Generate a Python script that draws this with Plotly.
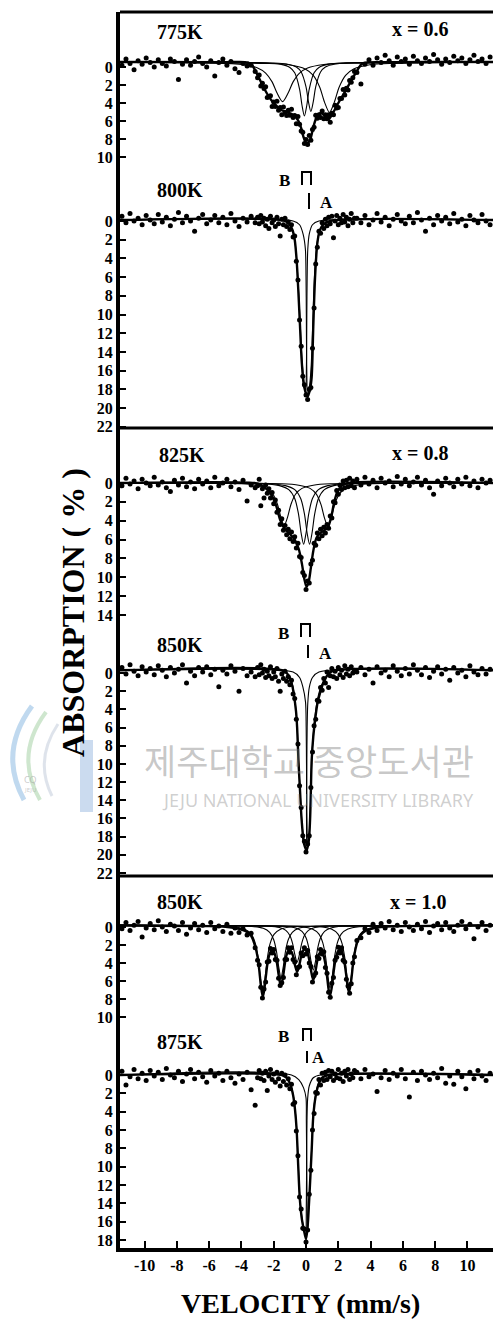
import plotly.graph_objects as go

# ---------------- page geometry (pixels) ----------------
W, H = 493, 1321
ML, MR, MT, MB = 120, 0, 12, 73
PW = W - ML - MR
PH = H - MT - MB


def px(x):
    return (x - ML) / PW


def py(y):
    return (H - MB - y) / PH


# ---------------- data ----------------
velocity = (
    [-11.4, -11.15, -10.9, -10.65, -10.4, -10.15, -9.9, -9.65, -9.4, -9.15, -8.9, -8.65,
     -8.4, -8.15, -7.9, -7.65, -7.4, -7.15, -6.9, -6.65, -6.4, -6.15, -5.9, -5.65, -5.4,
     -5.15, -4.9, -4.65, -4.4, -4.15, -3.9, -3.65, -3.4, -3.15]
    + [-3.0, -2.9, -2.8, -2.7, -2.6, -2.5, -2.4, -2.3, -2.2, -2.1, -2.0, -1.9, -1.8, -1.7,
       -1.6, -1.5, -1.4, -1.3, -1.2, -1.1, -1.0, -0.9, -0.8, -0.7, -0.6, -0.5, -0.4, -0.3,
       -0.2, -0.1, 0.0, 0.1, 0.2, 0.3, 0.4, 0.5, 0.6, 0.7, 0.8, 0.9, 1.0, 1.1, 1.2, 1.3,
       1.4, 1.5, 1.6, 1.7, 1.8, 1.9, 2.0, 2.1, 2.2, 2.3, 2.4, 2.5, 2.6, 2.7, 2.8, 2.9, 3.0]
    + [3.15, 3.4, 3.65, 3.9, 4.15, 4.4, 4.65, 4.9, 5.15, 5.4, 5.65, 5.9, 6.15, 6.4, 6.65,
       6.9, 7.15, 7.4, 7.65, 7.9, 8.15, 8.4, 8.65, 8.9, 9.15, 9.4, 9.65, 9.9, 10.15, 10.4,
       10.65, 10.9, 11.15, 11.4]
)

# measured absorption (%) for each spectrum
abs_775 = (
    [-0.2, -0.9, -0.4, 0.3, -0.7, -0.3, -1.0, -0.5, 0.0, -0.8, -0.4, -0.1, -0.9, -0.6, 1.4,
     -0.3, -0.8, -0.2, -0.6, -1.1, -0.4, 0.0, -0.7, 1.0, -0.5, -0.9, -0.2, -0.6, 0.2, 0.6,
     -0.4, -0.1, -0.2, 0.5]
    + [1.2, 0.9, 2.1, 1.8, 2.4, 2.2, 3.4, 3.3, 3.2, 4.4, 3.9, 4.4, 3.8, 4.8, 4.5, 5.3, 4.45,
       5.05, 5.4, 4.8, 5.35, 4.7, 5.6, 5.4, 6.3, 5.5, 6.35, 7.1, 7.25, 8.5, 8.05, 8.6, 7.6,
       8.15, 6.95, 6.7, 5.35, 5.7, 5.3, 5.6, 4.9, 5.75, 5.3, 5.75, 5.3, 6.15, 5.15, 5.3,
       4.25, 4.55, 4.5, 3.5, 3.5, 2.5, 3.1, 2.35, 2.55, 1.5, 1.7, 1.2, 0.5]
    + [0.6, 1.9, -0.3, -0.8, -0.2, -1.0, -0.5, -1.3, -0.7, -0.2, -1.1, -0.6, -0.9, -0.3, -1.2,
       -0.7, -0.4, -1.0, -0.6, -1.4, -0.8, -0.3, -0.9, -0.5, -1.2, -0.7, -1.0, -0.4, -0.8,
       -1.3, -0.6, -0.9, -0.4, -1.1]
)
abs_800 = (
    [-0.5, 0.2, -0.8, 0.0, -0.3, 0.4, -0.6, -0.1, 0.3, -0.7, 0.1, -0.4, 0.5, -0.2, -0.9, 0.2,
     -0.5, 0.0, 1.1, -0.3, -0.7, 0.3, -0.1, -0.6, 0.2, -0.4, 0.4, -0.8, 0.0, 0.6, -0.3, 0.1,
     -0.5, 0.2]
    + [-0.4, 0.3, -0.6, 0.1, -0.3, 0.5, -0.2, 0.8, -0.5, 0.2, -0.1, 0.6, -0.4, 0.3, 1.6, -0.2,
       0.4, -0.3, 0.6, 0.1, 0.9, 0.4, 1.7, 1.6, 4.3, 6.3, 10.6, 13.4, 16.6, 17.5, 18.6, 19.1,
       18.0, 17.8, 13.6, 9.3, 4.6, 2.8, 1.1, 1.3, 0.2, 0.8, -0.2, 0.5, -0.4, 0.3, -0.5, 1.8,
       0.0, -0.6, 0.4, -0.3, 0.2, -0.7, 0.1, -0.4, 0.5, -0.2, -0.8, 0.2, -0.3]
    + [-0.3, 0.2, -0.6, 0.4, -0.1, -0.8, 0.1, -0.4, 0.5, -0.2, -0.7, 0.0, 0.3, -0.5, 0.2, -0.9,
       -0.1, 1.1, -0.3, 0.4, -0.6, 0.0, -0.4, 0.3, -0.8, 0.1, -0.2, 0.5, -0.6, -0.1, 0.2,
       -0.7, 0.0, 0.4]
)
abs_825 = (
    [0.3, -0.5, 0.1, -0.2, 0.6, -0.4, 0.0, 0.3, -0.6, 0.2, -0.1, 0.5, 0.9, -0.3, 0.2, -0.5,
     0.4, -0.1, 0.6, -0.4, 0.1, -0.2, 0.5, -0.6, 0.3, 0.0, -0.4, 0.4, -0.1, 0.7, -0.3, 1.9,
     0.2, 0.5]
    + [0.3, -0.4, 2.4, 0.6, 1.6, 0.2, 1.1, 0.6, 1.6, 1.0, 2.2, 1.8, 3.1, 2.9, 4.4, 3.8, 5.0,
       4.5, 5.5, 4.9, 5.9, 5.2, 6.2, 5.7, 6.9, 6.4, 7.8, 7.9, 9.5, 9.8, 11.3, 10.4, 10.6, 8.6,
       8.2, 6.4, 6.6, 5.3, 5.9, 4.9, 5.6, 4.7, 5.3, 4.4, 4.8, 3.5, 3.7, 2.0, 2.1, 0.8, 1.2,
       0.2, 0.7, -0.2, 0.5, -0.3, 0.4, -0.5, 0.3, -0.2, 0.5]
    + [-0.4, 0.2, -0.6, 0.1, -0.3, 0.5, -0.5, 0.0, -0.2, 0.4, -0.7, 0.1, -0.4, 0.3, -0.1, -0.6,
       0.2, -0.3, 0.5, 1.2, -0.2, 0.3, -0.5, 0.0, 0.4, -0.4, 0.1, -0.6, 0.3, -0.2, 0.5, -0.4,
       0.0, -0.3]
)
abs_850a = (
    [-0.6, 0.1, -0.9, -0.2, 0.3, -0.7, -0.1, -0.5, 0.2, -0.8, -0.3, 0.4, -0.6, 0.0, -0.4,
     -0.9, 1.1, -0.2, 0.3, -0.6, -0.1, -0.7, 0.2, -0.4, 1.5, -0.3, 0.1, -0.8, -0.2, 2.0,
     -0.5, 0.3, -0.1, 0.4]
    + [-0.6, 0.2, -0.9, 0.0, -0.4, 0.5, -0.2, 0.3, -0.7, 0.6, -0.1, 0.4, -0.5, 0.9, 2.0, 0.1,
       0.6, -0.2, 0.9, 0.4, 1.3, 0.8, 2.3, 2.8, 5.1, 7.8, 12.4, 14.8, 17.9, 18.5, 19.7, 18.8,
       17.9, 12.6, 8.7, 5.8, 5.1, 3.0, 3.1, 1.6, 1.9, 0.6, 1.1, -0.1, 1.6, 0.3, -0.5, 0.4,
       -0.2, 0.6, -0.6, 0.2, -0.3, 0.5, -0.8, 0.1, -0.4, 0.3, -0.7, 0.0, -0.3]
    + [-0.1, -0.6, 0.2, -0.4, 1.1, -0.7, 0.0, -0.3, 0.4, -0.8, -0.2, 0.3, -0.5, 0.1, -0.9,
       -0.3, 0.2, -0.6, 0.5, -0.2, -0.7, 0.1, -0.4, 0.8, -0.6, 0.0, -0.3, 0.4, -0.8, -0.1,
       0.2, -0.5, 0.1, -0.4]
)
abs_850b = (
    [0.2, -0.5, 0.4, -0.2, -0.6, 1.1, 0.1, -0.4, 0.3, -0.7, 0.0, 0.5, -0.3, -0.1, 0.4, -0.5,
     0.8, 0.1, -0.4, 0.3, -0.2, 0.6, -0.5, 0.2, -0.1, 0.5, -0.3, 0.7, 0.1, 0.6, 0.2, 0.9,
     0.7, 2.3]
    + [3.7, 4.2, 6.7, 7.9, 6.9, 6.1, 3.9, 3.8, 2.4, 2.9, 2.5, 3.6, 3.7, 5.7, 6.5, 6.2, 5.6,
       3.6, 3.6, 2.3, 2.8, 2.3, 3.6, 3.9, 5.3, 4.5, 4.4, 2.9, 3.2, 2.3, 3.0, 2.6, 4.0, 4.4,
       6.1, 5.4, 5.1, 3.3, 3.5, 2.5, 3.0, 2.75, 4.5, 5.15, 7.25, 7.8, 6.25, 5.6, 3.7, 3.35,
       2.25, 2.9, 2.3, 3.7, 3.9, 5.8, 6.55, 7.35, 6.3, 4.0, 3.3]
    + [1.5, 1.2, 0.2, 0.6, -0.3, 0.4, -0.4, 0.1, -0.6, 0.3, -0.2, 0.5, -0.5, 0.0, 0.4, -0.3,
       0.2, -0.6, 0.6, -0.1, -0.4, 0.3, -0.5, 0.1, 0.5, -0.2, -0.6, 0.2, -0.3, 1.3, 0.0,
       -0.5, 0.4, -0.2]
)
abs_875 = (
    [-0.4, 1.1, 0.2, -0.6, 0.4, -0.2, 0.6, -0.5, 0.1, -0.3, 0.5, -0.7, 0.0, 0.3, -0.4, 0.7,
     -0.1, -0.6, 0.4, -0.3, 0.2, 0.8, -0.5, 0.1, -0.2, 0.6, -0.4, 0.3, 0.9, -0.1, 0.5, -0.3,
     1.6, 3.3]
    + [0.3, -0.5, 0.4, -0.2, 0.6, -0.4, 1.7, 0.1, -0.6, 0.5, -0.1, 0.8, -0.3, 0.4, 1.2, -0.2,
       0.7, 0.0, 1.1, 0.4, 1.5, 1.0, 3.2, 3.0, 6.1, 8.8, 13.3, 14.6, 16.7, 16.8, 18.2, 16.9,
       13.0, 10.4, 6.0, 4.2, 1.9, 2.0, 0.5, 1.1, -0.2, 0.6, -0.3, 0.5, -0.5, 0.2, -0.4, 0.6,
       -0.1, 0.3, -0.6, 0.4, -0.2, 0.7, -0.4, 0.1, -0.6, 0.5, -0.1, 0.3, -0.5]
    + [-0.3, 0.4, -0.6, 0.2, -0.1, 1.8, 0.3, -0.5, 0.5, -0.2, 0.1, -0.6, 0.4, 2.4, -0.3, 0.6,
       -0.4, 0.0, 0.5, -0.2, 0.3, -0.7, 0.9, 0.1, 1.0, -0.4, 0.2, 1.5, -0.3, 0.4, -0.5, 0.1,
       0.6, -0.2]
)

# fitted curves (velocity, absorption)
env_775 = [(-11.52, -0.55), (-5.0, -0.54), (-3.6, -0.5), (-3.3, -0.1), (-3.0, 0.9), (-2.7, 2.0),
           (-2.4, 3.0), (-2.1, 3.8), (-1.8, 4.4), (-1.5, 4.8), (-1.2, 5.0), (-0.8, 5.3),
           (-0.5, 5.9), (-0.3, 6.8), (-0.15, 7.8), (0.05, 8.5), (0.25, 8.1), (0.45, 6.7),
           (0.65, 5.6), (0.9, 5.1), (1.15, 5.4), (1.4, 5.8), (1.7, 5.0), (2.0, 4.0), (2.4, 2.8),
           (2.8, 1.5), (3.2, 0.3), (3.5, -0.4), (5.0, -0.54), (11.58, -0.55)]
c1_775 = [(-11.52, -0.53), (-4.0, -0.28), (-3.0, 0.11), (-2.5, 0.67), (-2.1, 1.65), (-1.8, 2.86),
          (-1.45, 3.85), (-1.1, 2.86), (-0.8, 1.65), (-0.4, 0.67), (0.1, 0.11), (1.1, -0.28),
          (3.0, -0.46), (11.58, -0.54)]
c2_775 = [(-11.52, -0.54), (-2.5, -0.45), (-1.6, -0.32), (-1.0, 0.05), (-0.7, 0.65), (-0.4, 2.45),
          (-0.25, 4.25), (-0.1, 5.45), (0.05, 4.25), (0.2, 2.45), (0.5, 0.65), (0.8, 0.05),
          (1.4, -0.32), (2.3, -0.45), (11.58, -0.54)]
c3_775 = [(-11.52, -0.54), (-2.1, -0.45), (-1.2, -0.34), (-0.6, 0.0), (-0.3, 0.55), (0.0, 2.2),
          (0.15, 3.85), (0.3, 4.95), (0.45, 3.85), (0.6, 2.2), (0.9, 0.55), (1.2, 0.0),
          (1.8, -0.34), (2.7, -0.45), (11.58, -0.54)]
c4_775 = [(-11.52, -0.54), (-2.5, -0.4), (-1.05, -0.25), (-0.05, 0.22), (0.45, 0.93), (0.85, 2.25),
          (1.15, 3.93), (1.45, 5.05), (1.75, 3.93), (2.05, 2.25), (2.45, 0.93), (2.95, 0.22),
          (3.95, -0.25), (5.5, -0.4), (11.58, -0.54)]

env_800 = [(-11.52, -0.1), (-1.5, -0.1), (-1.1, 0.2), (-0.85, 0.9), (-0.7, 2.0), (-0.58, 4.2),
           (-0.47, 7.7), (-0.37, 11.3), (-0.27, 14.9), (-0.12, 17.7), (0.1, 18.8), (0.25, 18.0),
           (0.35, 16.7), (0.45, 11.3), (0.56, 6.0), (0.7, 2.4), (0.85, 1.0), (1.07, 0.4),
           (1.5, 0.0), (11.58, -0.1)]
cl_800 = [(-11.52, -0.1), (-1.4, -0.1), (-1.0, 0.3), (-0.8, 1.2), (-0.68, 2.3), (-0.57, 4.3),
          (-0.45, 7.8), (-0.35, 11.4), (-0.25, 14.8), (-0.12, 17.3), (-0.02, 18.2), (0.03, 15.0),
          (0.05, 10.0), (0.07, 6.0), (0.11, 3.0), (0.2, 1.4), (0.4, 0.4), (0.8, 0.0),
          (11.58, -0.1)]
cr_800 = [(-11.52, -0.1), (-0.8, 0.0), (-0.4, 0.4), (-0.18, 1.4), (-0.04, 3.0), (0.0, 6.0),
          (0.02, 10.0), (0.04, 15.0), (0.1, 18.5), (0.22, 17.6), (0.32, 15.5), (0.4, 12.0),
          (0.48, 7.8), (0.56, 4.8), (0.68, 2.4), (0.85, 1.0), (1.1, 0.3), (1.5, 0.0),
          (11.58, -0.1)]

env_825 = [(-11.52, 0.0), (-3.2, 0.0), (-2.8, 0.2), (-2.4, 0.7), (-2.1, 1.4), (-1.85, 2.4),
           (-1.6, 3.9), (-1.35, 4.8), (-1.0, 5.4), (-0.7, 6.0), (-0.45, 7.0), (-0.25, 8.6),
           (-0.1, 10.2), (0.03, 11.0), (0.15, 10.6), (0.3, 9.0), (0.45, 7.2), (0.65, 5.8),
           (0.9, 5.3), (1.15, 5.0), (1.35, 4.7), (1.55, 3.7), (1.75, 2.0), (1.95, 0.9),
           (2.2, 0.3), (2.6, 0.0), (11.58, 0.0)]
c1_825 = [(-11.52, 0.0), (-4.0, 0.08), (-3.15, 0.23), (-2.45, 0.57), (-2.05, 1.19), (-1.77, 2.25),
          (-1.55, 3.67), (-1.35, 4.5), (-1.15, 3.67), (-0.93, 2.25), (-0.65, 1.19), (-0.25, 0.57),
          (0.45, 0.23), (1.5, 0.08), (11.58, 0.0)]
c2_825 = [(-11.52, 0.0), (-2.5, 0.1), (-1.65, 0.28), (-1.05, 0.73), (-0.7, 1.65), (-0.47, 3.25),
          (-0.3, 5.33), (-0.15, 6.5), (0.0, 5.33), (0.17, 3.25), (0.4, 1.65), (0.75, 0.73),
          (1.35, 0.28), (2.2, 0.1), (11.58, 0.0)]
c3_825 = [(-11.52, 0.0), (-2.15, 0.1), (-1.28, 0.28), (-0.68, 0.73), (-0.33, 1.65), (-0.1, 3.25),
          (0.07, 5.33), (0.22, 6.5), (0.37, 5.33), (0.54, 3.25), (0.77, 1.65), (1.12, 0.73),
          (1.72, 0.28), (2.6, 0.1), (11.58, 0.0)]
c4_825 = [(-11.52, 0.0), (-1.5, 0.08), (-0.45, 0.23), (0.25, 0.57), (0.65, 1.2), (0.93, 2.3),
          (1.15, 3.75), (1.35, 4.6), (1.55, 3.75), (1.77, 2.3), (2.05, 1.2), (2.45, 0.57),
          (3.15, 0.23), (4.0, 0.08), (11.58, 0.0)]

env_850a = [(-11.52, -0.3), (-1.5, -0.3), (-1.2, 0.0), (-1.0, 0.6), (-0.85, 1.4), (-0.75, 2.4),
            (-0.62, 4.2), (-0.55, 6.0), (-0.47, 9.6), (-0.37, 13.0), (-0.27, 16.2),
            (-0.12, 18.8), (0.04, 19.5), (0.17, 18.5), (0.25, 16.2), (0.3, 13.0), (0.35, 9.6),
            (0.45, 7.0), (0.56, 5.2), (0.7, 3.4), (0.87, 2.2), (1.05, 1.2), (1.3, 0.3),
            (1.6, -0.2), (11.58, -0.3)]
cl_850a = [(-11.52, -0.3), (-1.4, -0.3), (-1.0, 0.4), (-0.8, 1.6), (-0.65, 3.6), (-0.55, 5.8),
           (-0.47, 9.3), (-0.37, 12.8), (-0.27, 16.0), (-0.12, 18.6), (0.0, 19.2), (0.03, 15.0),
           (0.05, 10.0), (0.07, 6.0), (0.11, 3.3), (0.2, 1.6), (0.4, 0.5), (0.8, -0.1),
           (11.58, -0.3)]
cr_850a = [(-11.52, -0.3), (-0.8, -0.1), (-0.4, 0.5), (-0.2, 1.5), (-0.03, 3.2), (0.01, 6.0),
           (0.03, 10.0), (0.05, 15.0), (0.1, 19.0), (0.2, 17.6), (0.27, 15.0), (0.33, 11.0),
           (0.42, 7.5), (0.54, 5.0), (0.68, 3.2), (0.85, 1.9), (1.05, 1.0), (1.35, 0.2),
           (1.7, -0.2), (11.58, -0.3)]

env_850b = [(-11.52, -0.17), (-6.0, -0.1), (-5.0, -0.02), (-4.4, 0.12), (-4.0, 0.26), (-3.65, 0.55),
            (-3.4, 0.99), (-3.2, 1.85), (-3.0, 3.3), (-2.9, 4.72), (-2.8, 6.43), (-2.68, 7.74),
            (-2.6, 7.13), (-2.5, 5.68), (-2.4, 4.24), (-2.3, 3.28), (-2.2, 2.77), (-2.1, 2.59),
            (-2.0, 2.69), (-1.9, 3.22), (-1.8, 4.01), (-1.7, 5.26), (-1.6, 6.3), (-1.55, 6.53),
            (-1.5, 6.29), (-1.4, 5.26), (-1.3, 3.97), (-1.2, 3.08), (-1.1, 2.64), (-1.0, 2.59),
            (-0.9, 2.77), (-0.8, 3.24), (-0.7, 4.13), (-0.6, 4.76), (-0.55, 4.99), (-0.5, 4.76),
            (-0.4, 4.11), (-0.3, 3.25), (-0.2, 2.7), (-0.1, 2.5), (0.0, 2.55), (0.1, 2.91),
            (0.2, 3.63), (0.3, 4.74), (0.4, 5.6), (0.45, 5.84), (0.5, 5.64), (0.6, 4.81),
            (0.7, 3.71), (0.8, 3.04), (0.9, 2.78), (1.0, 2.81), (1.1, 3.25), (1.2, 4.13),
            (1.3, 5.45), (1.4, 6.95), (1.49, 7.63), (1.6, 6.65), (1.7, 5.14), (1.8, 3.9),
            (1.9, 3.06), (2.0, 2.65), (2.1, 2.53), (2.2, 2.58), (2.3, 3.2), (2.4, 4.14),
            (2.5, 5.49), (2.6, 6.87), (2.67, 7.24), (2.8, 5.91), (2.9, 4.29), (3.0, 3.02),
            (3.2, 1.55), (3.4, 0.85), (3.65, 0.46), (4.0, 0.24), (4.4, 0.05), (5.0, -0.05),
            (6.0, -0.1), (11.58, -0.17)]
l1_850b = [(-11.52, -0.19), (-6.0, -0.1), (-4.48, -0.02), (-3.78, 0.25), (-3.38, 0.82),
           (-3.13, 1.87), (-2.96, 3.5), (-2.82, 5.72), (-2.68, 7.2), (-2.54, 5.72), (-2.4, 3.5),
           (-2.23, 1.87), (-1.98, 0.82), (-1.58, 0.25), (-0.88, -0.02), (0.6, -0.1),
           (11.58, -0.19)]
l2_850b = [(-11.52, -0.19), (-5.0, -0.12), (-3.35, -0.06), (-2.65, 0.15), (-2.25, 0.6),
           (-2.0, 1.42), (-1.83, 2.7), (-1.69, 4.44), (-1.55, 5.6), (-1.41, 4.44), (-1.27, 2.7),
           (-1.1, 1.42), (-0.85, 0.6), (-0.45, 0.15), (0.25, -0.06), (2.0, -0.12),
           (11.58, -0.19)]
l3_850b = [(-11.52, -0.19), (-4.0, -0.14), (-2.35, -0.1), (-1.65, 0.05), (-1.25, 0.37),
           (-1.0, 0.95), (-0.83, 1.85), (-0.69, 3.08), (-0.55, 3.9), (-0.41, 3.08), (-0.27, 1.85),
           (-0.1, 0.95), (0.15, 0.37), (0.55, 0.05), (1.25, -0.1), (3.0, -0.14), (11.58, -0.19)]
l4_850b = [(-11.52, -0.19), (-3.0, -0.13), (-1.35, -0.08), (-0.65, 0.11), (-0.25, 0.49),
           (0.0, 1.2), (0.17, 2.3), (0.31, 3.8), (0.45, 4.8), (0.59, 3.8), (0.73, 2.3),
           (0.9, 1.2), (1.15, 0.49), (1.55, 0.11), (2.25, -0.08), (4.0, -0.13), (11.58, -0.19)]
l5_850b = [(-11.52, -0.19), (-1.5, -0.1), (-0.31, -0.03), (0.39, 0.23), (0.79, 0.77),
           (1.04, 1.76), (1.21, 3.3), (1.35, 5.4), (1.49, 6.8), (1.63, 5.4), (1.77, 3.3),
           (1.94, 1.76), (2.19, 0.77), (2.59, 0.23), (3.29, -0.03), (5.0, -0.1), (11.58, -0.19)]
l6_850b = [(-11.52, -0.19), (-0.5, -0.1), (0.87, -0.03), (1.57, 0.23), (1.97, 0.77),
           (2.22, 1.76), (2.39, 3.3), (2.53, 5.4), (2.67, 6.8), (2.81, 5.4), (2.95, 3.3),
           (3.12, 1.76), (3.37, 0.77), (3.77, 0.23), (4.47, -0.03), (6.0, -0.1), (11.58, -0.19)]

env_875 = [(-11.52, 0.0), (-1.5, 0.0), (-1.2, 0.3), (-1.0, 0.9), (-0.8, 2.2), (-0.68, 3.8),
           (-0.58, 6.0), (-0.48, 10.0), (-0.38, 13.6), (-0.25, 15.8), (-0.12, 17.0),
           (0.0, 17.9), (0.1, 16.5), (0.17, 14.5), (0.25, 11.8), (0.35, 8.2), (0.45, 4.5),
           (0.6, 2.3), (0.8, 0.9), (1.0, 0.3), (1.4, 0.0), (11.58, 0.0)]
cl_875 = [(-11.52, 0.0), (-1.4, 0.0), (-1.0, 0.8), (-0.8, 2.1), (-0.68, 3.7), (-0.58, 5.8),
          (-0.48, 9.8), (-0.38, 13.4), (-0.25, 15.6), (-0.1, 17.1), (-0.02, 17.6), (0.02, 14.0),
          (0.04, 9.0), (0.06, 5.0), (0.1, 2.6), (0.2, 1.2), (0.45, 0.3), (0.9, 0.0),
          (11.58, 0.0)]
cr_875 = [(-11.52, 0.0), (-0.9, 0.0), (-0.45, 0.5), (-0.15, 1.4), (0.0, 2.5), (0.02, 5.0),
          (0.04, 9.0), (0.06, 13.0), (0.1, 17.0), (0.17, 14.3), (0.25, 11.6), (0.35, 8.0),
          (0.45, 4.3), (0.6, 2.1), (0.8, 0.8), (1.05, 0.2), (1.5, 0.0), (11.58, 0.0)]

# tick labels
velocity_ticks = [-10, -8, -6, -4, -2, 0, 2, 4, 6, 8, 10]
velocity_tick_text = ["-10", "-8", "-6", "-4", "-2", "0", "2", "4", "6", "8", "10"]
ticks_775 = [0, 2, 4, 6, 8, 10]
ticks_800 = [0, 2, 4, 6, 8, 10, 12, 14, 16, 18, 20, 22]
ticks_825 = [0, 2, 4, 6, 8, 10, 12, 14]
ticks_850a = [0, 2, 4, 6, 8, 10, 12, 14, 16, 18, 20, 22]
ticks_850b = [0, 2, 4, 6, 8, 10]
ticks_875 = [0, 2, 4, 6, 8, 10, 12, 14, 16, 18]

for arr in (abs_775, abs_800, abs_825, abs_850a, abs_850b, abs_875):
    assert len(arr) == len(velocity), len(arr)

# panel layout: (top px, bottom px, zero px, px per unit)
panels = [
    dict(dots=abs_775, env=env_775, comps=[c1_775, c2_775, c3_775, c4_775], ticks=ticks_775,
         geom=(12, 165, 67, 9.0)),
    dict(dots=abs_800, env=env_800, comps=[cl_800, cr_800], ticks=ticks_800,
         geom=(165, 428, 221, 9.35)),
    dict(dots=abs_825, env=env_825, comps=[c1_825, c2_825, c3_825, c4_825], ticks=ticks_825,
         geom=(428, 625, 483, 9.43)),
    dict(dots=abs_850a, env=env_850a, comps=[cl_850a, cr_850a], ticks=ticks_850a,
         geom=(625, 876, 673, 9.09)),
    dict(dots=abs_850b, env=env_850b,
         comps=[l1_850b, l2_850b, l3_850b, l4_850b, l5_850b, l6_850b], ticks=ticks_850b,
         geom=(876, 1030, 927, 9.0)),
    dict(dots=abs_875, env=env_875, comps=[cl_875, cr_875], ticks=ticks_875,
         geom=(1030, 1248, 1075, 9.17)),
]

SERIF = "Liberation Serif"
fig = go.Figure()
layout_axes = {}

for i, p in enumerate(panels):
    yname = "y" if i == 0 else f"y{i + 1}"
    lname = "yaxis" if i == 0 else f"yaxis{i + 1}"
    top, bot, zero, scale = p["geom"]
    for comp in p["comps"]:
        cx, cy = zip(*comp)
        fig.add_trace(go.Scatter(x=cx, y=cy, mode="lines", xaxis="x", yaxis=yname,
                                 line=dict(color="black", width=1.1, shape="spline",
                                           smoothing=0.8),
                                 hoverinfo="skip", showlegend=False))
    ex, ey = zip(*p["env"])
    fig.add_trace(go.Scatter(x=ex, y=ey, mode="lines", xaxis="x", yaxis=yname,
                             line=dict(color="black", width=2.4, shape="spline", smoothing=0.8),
                             hoverinfo="skip", showlegend=False))
    fig.add_trace(go.Scatter(x=velocity, y=p["dots"], mode="markers", xaxis="x", yaxis=yname,
                             marker=dict(color="black", size=5, line=dict(width=0)),
                             hoverinfo="skip", showlegend=False))
    layout_axes[lname] = dict(
        domain=[py(bot), py(top)],
        range=[(bot - zero) / scale, (top - zero) / scale],
        anchor="x",
        tickmode="array", tickvals=p["ticks"], ticktext=[str(t) for t in p["ticks"]],
        ticks="inside", ticklen=6, tickwidth=2, tickcolor="black",
        showline=True, linewidth=4, linecolor="black",
        showgrid=False, zeroline=False,
        tickfont=dict(family=SERIF, size=16, color="black", weight="bold"),
    )

fig.update_layout(
    width=W, height=H,
    margin=dict(l=ML, r=MR, t=MT, b=MB, pad=0),
    paper_bgcolor="white", plot_bgcolor="white",
    showlegend=False,
    xaxis=dict(domain=[0, 1], anchor="y6", range=[-11.52, 11.58],
               tickmode="array", tickvals=velocity_ticks, ticktext=velocity_tick_text,
               ticks="inside", ticklen=7, tickwidth=2, tickcolor="black",
               showline=True, linewidth=4, linecolor="black",
               showgrid=False, zeroline=False,
               tickfont=dict(family=SERIF, size=16, color="black", weight="bold")),
    **layout_axes,
)

shapes = []
# frame top and separators
for yy, wdt in ((12, 3), (428, 3), (876, 3)):
    shapes.append(dict(type="line", xref="paper", yref="paper", x0=0, x1=1, y0=py(yy), y1=py(yy),
                       line=dict(color="black", width=wdt)))


def pi_mark(x0, x1, ytop, ybot):
    return dict(type="path", xref="paper", yref="paper",
                path=f"M {px(x0)},{py(ybot)} L {px(x0)},{py(ytop)} L {px(x1)},{py(ytop)} L {px(x1)},{py(ybot)}",
                line=dict(color="black", width=2))


def bar_mark(x, ytop, ybot):
    return dict(type="line", xref="paper", yref="paper", x0=px(x), x1=px(x), y0=py(ytop),
                y1=py(ybot), line=dict(color="black", width=2))


shapes += [pi_mark(302, 311, 172, 185), bar_mark(309, 193, 209),
           pi_mark(301, 310, 624, 637), bar_mark(308, 645, 658),
           pi_mark(303, 311, 1029, 1041), bar_mark(307, 1051, 1063)]

# watermark logo (faint)
shapes += [
    dict(type="path", xref="paper", yref="paper",
         path=f"M {px(32)},{py(706)} Q {px(-2)},{py(752)} {px(24)},{py(800)}",
         line=dict(color="rgba(140,185,225,0.55)", width=5)),
    dict(type="path", xref="paper", yref="paper",
         path=f"M {px(46)},{py(712)} Q {px(14)},{py(755)} {px(40)},{py(800)}",
         line=dict(color="rgba(165,210,165,0.55)", width=4)),
    dict(type="path", xref="paper", yref="paper",
         path=f"M {px(58)},{py(724)} Q {px(34)},{py(760)} {px(52)},{py(796)}",
         line=dict(color="rgba(190,200,215,0.5)", width=3)),
    dict(type="rect", xref="paper", yref="paper", x0=px(80), x1=px(93), y0=py(812), y1=py(740),
         line=dict(width=0), fillcolor="rgba(160,190,225,0.55)"),
]
fig.update_layout(shapes=shapes)

ann = []


def label(text, x, y, size=19, **kw):
    ann.append(dict(text=f"<b>{text}</b>", x=px(x), y=py(y), xref="paper", yref="paper",
                    showarrow=False, xanchor="center", yanchor="middle",
                    font=dict(family=SERIF, size=size, color="black"), **kw))


label("775K", 180, 32, size=20)
label("x = 0.6", 420, 29, size=20)
label("800K", 180, 190, size=20)
label("825K", 182, 455, size=20)
label("x = 0.8", 420, 453, size=20)
label("850K", 180, 645, size=20)
label("850K", 180, 902, size=20)
label("x = 1.0", 418, 902, size=20)
label("875K", 180, 1042, size=20)
label("B", 284, 180, size=17)
label("A", 326, 202, size=17)
label("B", 283, 633, size=17)
label("A", 325, 653, size=17)
label("B", 283, 1036, size=17)
label("A", 318, 1057, size=17)
label("VELOCITY (mm/s)", 300, 1304, size=28)
label("ABSORPTION ( % )", 73, 613, size=32, textangle=-90)

# watermark text
ann.append(dict(text="제주대학교 중앙도서관", x=px(309), y=py(759), xref="paper", yref="paper",
                showarrow=False, xanchor="center", yanchor="middle",
                font=dict(family="Noto Sans CJK KR", size=35, color="rgba(120,120,120,0.42)")))
ann.append(dict(text="JEJU NATIONAL UNIVERSITY LIBRARY", x=px(318), y=py(800), xref="paper",
                yref="paper", showarrow=False, xanchor="center", yanchor="middle",
                font=dict(family="Noto Sans", size=18, color="rgba(140,140,140,0.42)")))
ann.append(dict(text="CQ", x=px(22), y=py(779), xref="paper", yref="paper", showarrow=False,
                font=dict(family="Noto Sans", size=9, color="rgba(150,150,150,0.5)")))
ann.append(dict(text="JEJU", x=px(22), y=py(790), xref="paper", yref="paper", showarrow=False,
                font=dict(family="Noto Sans", size=6, color="rgba(150,150,150,0.5)")))

fig.update_layout(annotations=ann)
fig.write_html("out.html",
               config={"displayModeBar": False, "staticPlot": True},
               post_script="document.body.style.margin='0px';document.body.style.overflow='hidden';")
